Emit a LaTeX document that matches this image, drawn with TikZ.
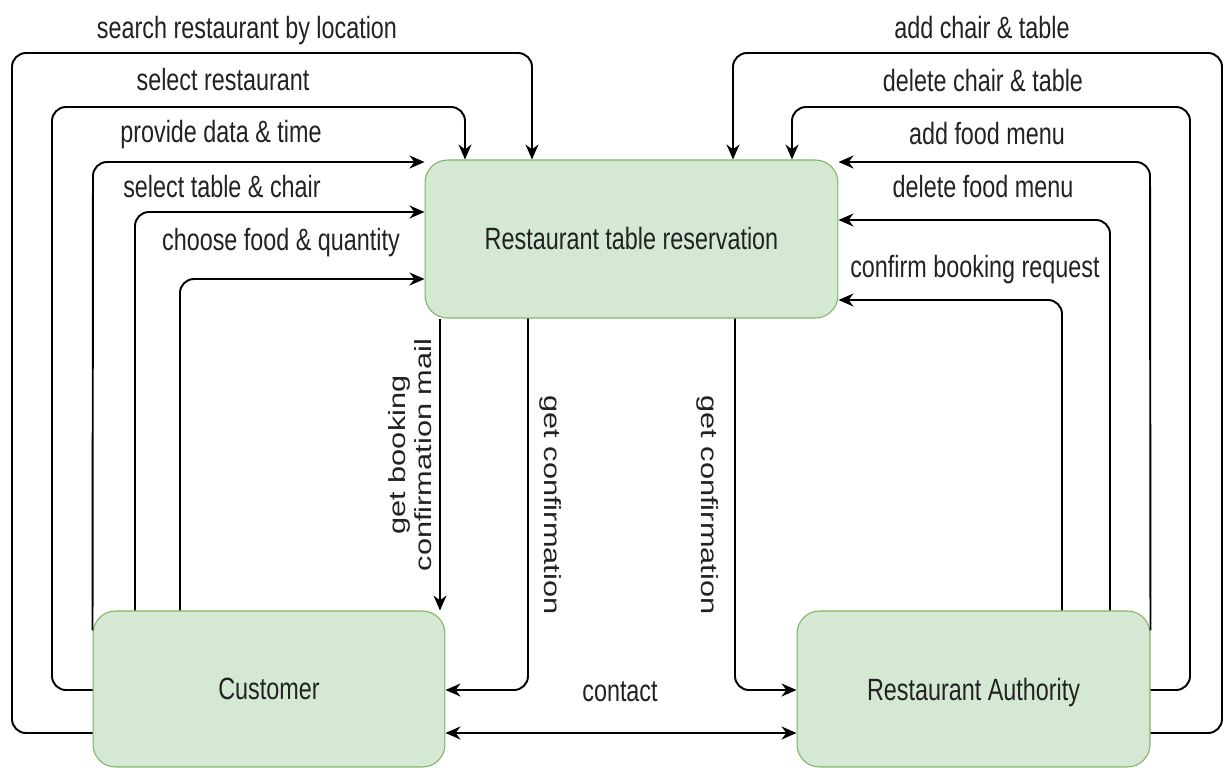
\documentclass[tikz,border=0pt]{standalone}
\usepackage{fontspec}
\setmainfont{Liberation Sans}[FakeStretch=0.76]
\newfontfamily\sidefont{Liberation Sans}
\usetikzlibrary{arrows.meta}
\definecolor{boxfill}{HTML}{D5E8D4}
\definecolor{boxline}{HTML}{82B366}
\definecolor{ink}{HTML}{222222}
\begin{document}
\begin{tikzpicture}[x=0.02cm, y=0.02cm, >={Stealth[length=0.3cm, width=0.26cm]},
            box/.style={draw=boxline, fill=boxfill, rounded corners=0.45cm, line width=0.6pt, text=ink, font=\fontsize{17.5}{20}\selectfont},
            conn/.style={->, line width=1.1pt, rounded corners=0.28cm},
            lbl/.style={anchor=base, text=ink, inner sep=0pt, font=\fontsize{17.5}{20}\selectfont},
            vlbl/.style={text=ink, inner sep=0pt, align=center, font=\sidefont\fontsize{17.5}{20}\selectfont}]
            \useasboundingbox (0,0) rectangle (1225,-768);
            \node[box, minimum width=8.26cm, minimum height=3.16cm] (res) at (631.5,-239) {Restaurant table reservation};
            \node[box, minimum width=7.04cm, minimum height=3.12cm] (cust) at (269,-689) {Customer};
            \node[box, minimum width=7.06cm, minimum height=3.12cm, text depth=0pt] (auth) at (973.5,-689) {Restaurant Authority};
            \draw[conn] (cust.west |- 0,-733) -- (12,-733) -- (12,-53) -- (532,-53) -- (res.north -| 532,0);
            \draw[conn] (cust.west |- 0,-690) -- (52,-690) -- (52,-107) -- (465,-107) -- (res.north -| 465,0);
            \draw[conn] ([yshift=-0.4cm]cust.north west) -- (93,-162) -- (res.west |- 0,-162);
            \draw[conn] (cust.north -| 135,0) -- (135,-212) -- (res.west |- 0,-212);
            \draw[conn] (cust.north -| 180,0) -- (180,-279) -- (res.west |- 0,-279);
            \draw[conn] (auth.east |- 0,-733) -- (1222,-733) -- (1222,-53) -- (733,-53) -- (res.north -| 733,0);
            \draw[conn] (auth.east |- 0,-690) -- (1190,-690) -- (1190,-107) -- (792,-107) -- (res.north -| 792,0);
            \draw[conn] ([yshift=-0.4cm]auth.north east) -- (1150,-162) -- (res.east |- 0,-162);
            \draw[conn] (auth.north -| 1110,0) -- (1110,-220) -- (res.east |- 0,-220);
            \draw[conn] (auth.north -| 1062,0) -- (1062,-300) -- (res.east |- 0,-300);
            \draw[conn] (res.south -| 440,0) -- (cust.north -| 440,0);
            \draw[conn] (res.south -| 528,0) -- (528,-690) -- (cust.east |- 0,-690);
            \draw[conn] (res.south -| 735,0) -- (735,-690) -- (auth.west |- 0,-690);
            \draw[conn, <->] (cust.east |- 0,-733) -- (auth.west |- 0,-733);
            \node[lbl] (tsearch) at (247,-38) {search restaurant by location};
            \node[lbl] (tselect) at (223,-90) {select restaurant};
            \node[lbl] (tdate) at (221,-142) {provide data \& time};
            \node[lbl] (ttable) at (222,-197) {select table \& chair};
            \node[lbl] (tfood) at (281,-250) {choose food \& quantity};
            \node[lbl] (taddchair) at (982,-38) {add chair \& table};
            \node[lbl] (tdelchair) at (983,-91) {delete chair \& table};
            \node[lbl] (taddmenu) at (987,-144) {add food menu};
            \node[lbl] (tdelmenu) at (983,-197) {delete food menu};
            \node[lbl] (tconfirm) at (975,-277) {confirm booking request};
            \node[lbl] (tcontact) at (620,-701) {contact};
            \node[vlbl, xscale=0.76, rotate=90] (tmail) at (410,-455) {get booking\\confirmation mail};
            \node[vlbl, xscale=0.76, rotate=-90] (tgetl) at (551,-505) {get confirmation};
            \node[vlbl, xscale=0.76, rotate=-90] (tgetr) at (708,-505) {get confirmation};
        \end{tikzpicture}
\end{document}
